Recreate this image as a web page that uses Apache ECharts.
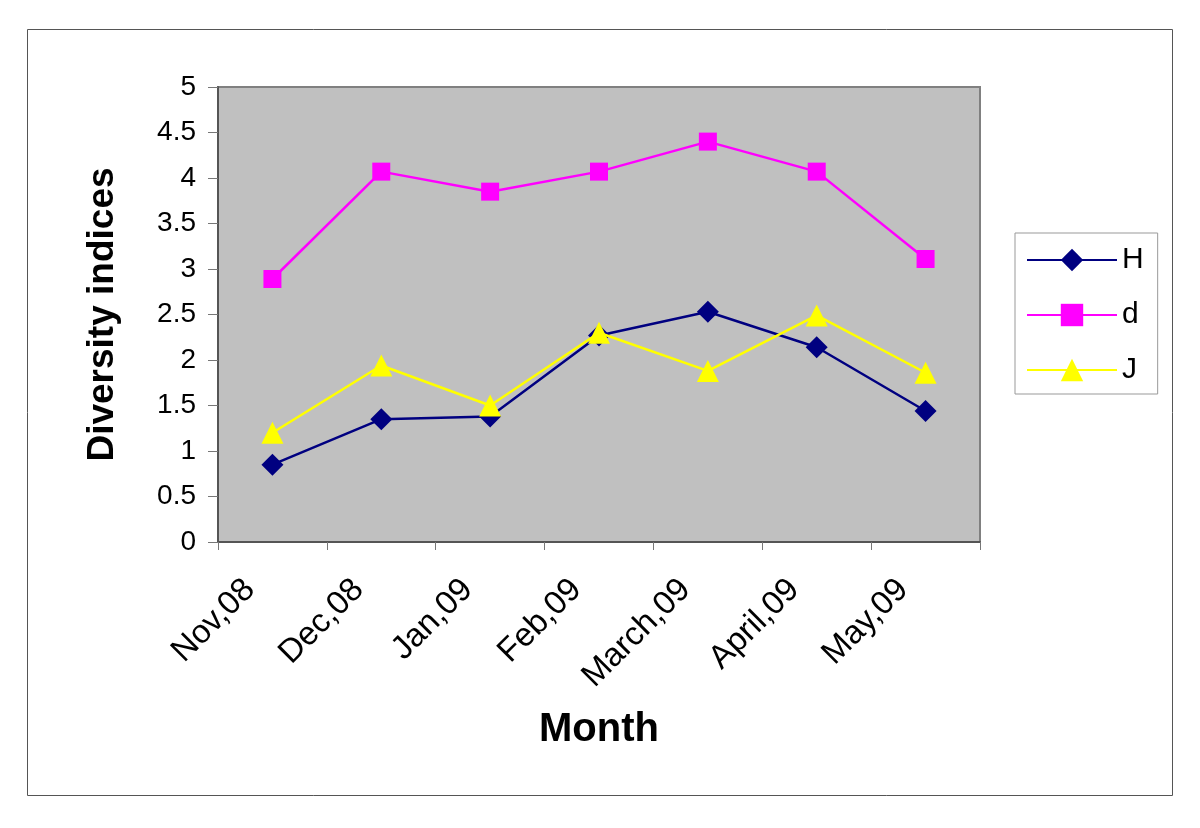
<!DOCTYPE html>
<html><head><meta charset="utf-8">
<script src="https://cdn.jsdelivr.net/npm/echarts@6/dist/echarts.min.js"></script>
<style>html,body{margin:0;padding:0;background:#fff}#c{width:1200px;height:828px}</style>
</head><body><div id="c"></div>
<script>
const months = ['Nov,08','Dec,08','Jan,09','Feb,09','March,09','April,09','May,09'];
const H = [0.85, 1.35, 1.38, 2.27, 2.53, 2.14, 1.44];
const d = [2.89, 4.07, 3.85, 4.07, 4.40, 4.07, 3.11];
const J = [1.20, 1.94, 1.50, 2.30, 1.88, 2.49, 1.86];

const chart = echarts.init(document.getElementById('c'));
const font = 'Liberation Sans, Arial, sans-serif';
chart.setOption({
  animation: false,
  textStyle: {fontFamily: font},
  graphic: [{type:'rect', shape:{x:27.5,y:29.5,width:1145,height:766}, style:{fill:'none', stroke:'#555', lineWidth:1}, z:-1}],
  grid: {left:218, top:87, right:220, bottom:286, show:true, backgroundColor:'#C0C0C0', borderColor:'#808080', borderWidth:2},
  legend: {
    orient:'vertical', left:1015, top:233, data:['H','d','J'],
    itemWidth:90, itemHeight:28, itemGap:25,
    padding:[12,14,9,11],
    backgroundColor:'#fff', borderColor:'#999', borderWidth:1,
    textStyle:{fontSize:30, color:'#000', fontFamily:font}
  },
  xAxis: {
    type:'category', data:months, boundaryGap:true,
    axisLine:{lineStyle:{color:'#555', width:2}},
    axisTick:{show:true, length:8, lineStyle:{color:'#777'}},
    axisLabel:{rotate:45, fontSize:33, color:'#000', margin:20, interval:0, padding:[0,32,0,0]},
    name:'Month', nameLocation:'middle', nameGap:168,
    nameTextStyle:{fontSize:40, fontWeight:'bold', color:'#000'}
  },
  yAxis: {
    type:'value', min:0, max:5, interval:0.5,
    splitLine:{show:false},
    axisLine:{show:true, lineStyle:{color:'#555', width:2}},
    axisTick:{show:true, length:10, lineStyle:{color:'#777'}},
    axisLabel:{fontSize:28, color:'#000', margin:22},
    name:'Diversity indices', nameLocation:'middle', nameGap:97, nameRotate:90,
    nameTextStyle:{fontSize:37, fontWeight:'bold', color:'#000'}
  },
  series: [
    {name:'H', type:'line', data:H, symbol:'diamond', symbolSize:22, color:'#000080', lineStyle:{width:2.5, color:'#000080'}, itemStyle:{color:'#000080'}, z:3},
    {name:'d', type:'line', data:d, symbol:'rect', symbolSize:18, color:'#FF00FF', lineStyle:{width:2.5, color:'#FF00FF'}, itemStyle:{color:'#FF00FF'}, z:2},
    {name:'J', type:'line', data:J, symbol:'triangle', symbolSize:22, color:'#FFFF00', lineStyle:{width:2.5, color:'#FFFF00'}, itemStyle:{color:'#FFFF00'}, z:4}
  ]
});
</script></body></html>
